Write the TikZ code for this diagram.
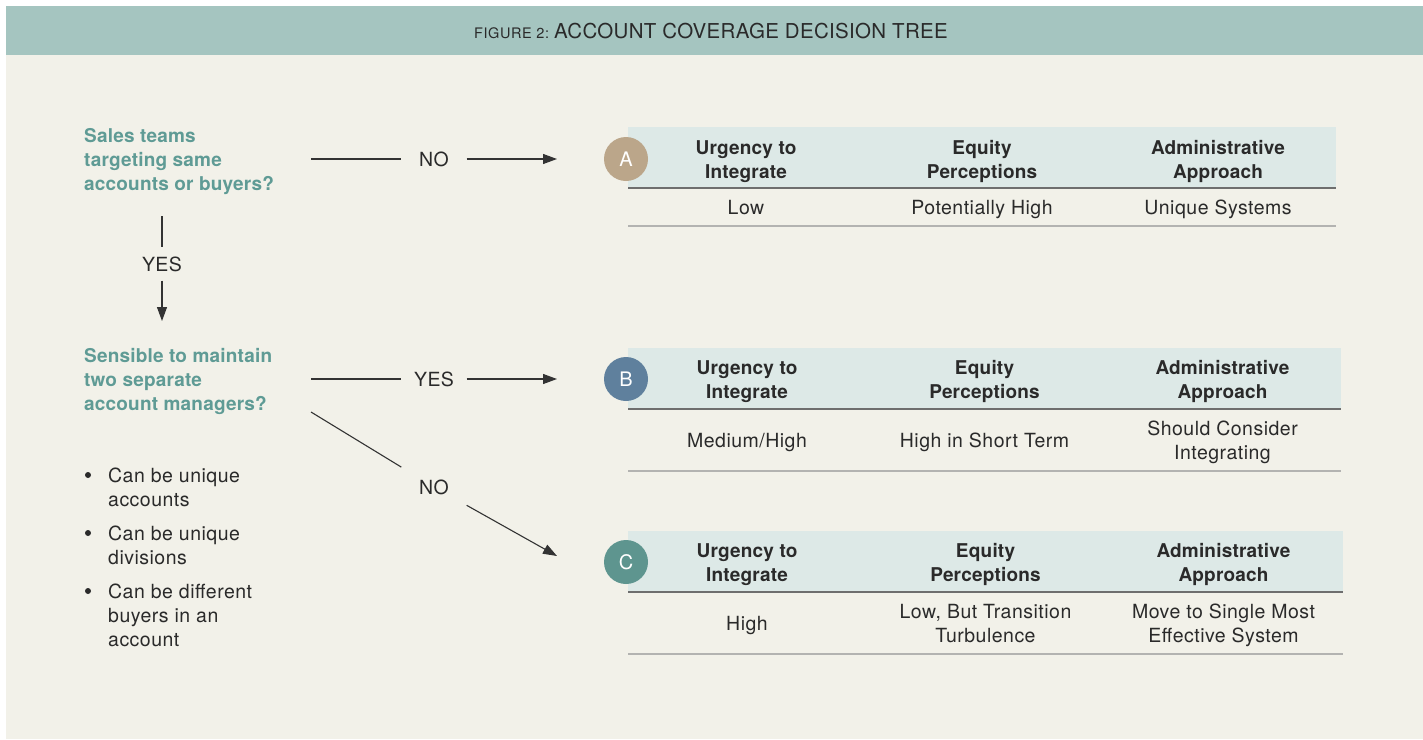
\documentclass[tikz,border=0pt]{standalone}
\usepackage{fontspec}
\setmainfont{TeX Gyre Heros}
\newfontfamily\regf[LetterSpace=2.5]{TeX Gyre Heros}
\newfontfamily\medf[LetterSpace=1]{TeX Gyre Heros}
\newfontfamily\titlef[LetterSpace=1.5]{TeX Gyre Heros}
\newfontfamily\smalltitlef[LetterSpace=4]{TeX Gyre Heros}
\usetikzlibrary{arrows.meta}
\definecolor{cream}{HTML}{F2F1E9}
\definecolor{headteal}{HTML}{A5C5C0}
\definecolor{qteal}{HTML}{5F9B95}
\definecolor{band}{HTML}{DDE9E7}
\definecolor{ink}{HTML}{2A2A2A}
\definecolor{lineink}{HTML}{333333}
\definecolor{darkrule}{HTML}{6E6E6E}
\definecolor{lightrule}{HTML}{B3B3B1}
\definecolor{cA}{HTML}{BBA68A}
\definecolor{cB}{HTML}{5F809D}
\definecolor{cC}{HTML}{5E958F}
\tikzset{
  txt/.style={inner sep=0pt, yshift=-2.2pt,
    execute at begin node=\strut, execute at end node=\strut},
  mtxt/.style={txt, yshift=-2pt},
  question/.style={mtxt, anchor=west, align=left, text=qteal,
    font=\fontsize{19}{24}\selectfont\medf\bfseries},
  hdr/.style={mtxt, align=center, text=ink,
    font=\fontsize{19}{24}\selectfont\medf\bfseries},
  cell/.style={txt, align=center, text=ink,
    font=\fontsize{19.5}{24}\selectfont\regf},
  mcell/.style={mtxt, align=center, text=ink,
    font=\fontsize{19.5}{24}\selectfont\regf},
  bultext/.style={mtxt, anchor=west, align=left, text=ink,
    font=\fontsize{19.5}{24}\selectfont\regf},
  lbl/.style={inner sep=0pt, text=ink, minimum width=65pt, minimum height=33pt,
    font=\fontsize{19.5}{24}\selectfont\regf},
  dlbl/.style={lbl, minimum height=42pt},
  badge/.style={circle, minimum size=44pt, inner sep=0pt, text=white,
    font=\fontsize{20}{24}\selectfont},
  conn/.style={draw=lineink, line width=1.1pt},
  arr/.style={conn, -{Triangle[length=14pt, width=10pt]}},
  darkline/.style={draw=darkrule, line width=2pt},
  lightline/.style={draw=lightrule, line width=1.5pt},
}
\begin{document}
\begin{tikzpicture}[x=1pt, y=-1pt]
\useasboundingbox (0,0) rectangle (1423,739);
\fill[white] (0,0) rectangle (1423,739);
\fill[cream] (6,54) rectangle (1423,739);
\fill[headteal] (6,6) rectangle (1423,55);
\node[anchor=base west, inner sep=0pt, text=ink] (title) at (474,38.3)
  {{\fontsize{14.5}{16}\selectfont\smalltitlef FIGURE 2:}\hspace{5pt}{\fontsize{20.5}{24}\selectfont\titlef ACCOUNT COVERAGE DECISION TREE}};

% questions
\node[question] (q1) at (84,159) {Sales teams\\targeting same\\accounts or buyers?};
\node[question] (q2) at (84,379) {Sensible to maintain\\two separate\\account managers?};

% bullets
\fill[ink] (88,475) circle (3pt);
\fill[ink] (88,533) circle (3pt);
\fill[ink] (88,591) circle (3pt);
\node[bultext] (b1) at (108,487) {Can be unique\\accounts};
\node[bultext] (b2) at (108,545) {Can be unique\\divisions};
\node[bultext] (b3) at (108,615) {Can be different\\buyers in an\\account};

% table A
\fill[band] (628,127) rectangle (1336,188);
\draw[darkline] (628,188) -- (1336,188);
\draw[lightline] (628,226) -- (1336,226);
\node[hdr] (ha1) at (746,159) {Urgency to\\Integrate};
\node[hdr] (ha2) at (982,159) {Equity\\Perceptions};
\node[hdr] (ha3) at (1218,159) {Administrative\\Approach};
\node[cell] (ra1) at (746,207) {Low};
\node[cell] (ra2) at (982,207) {Potentially High};
\node[cell] (ra3) at (1218,207) {Unique Systems};
\node[badge, fill=cA] (A) at (626,159) {A};

% table B
\fill[band] (628,348) rectangle (1341,409);
\draw[darkline] (628,409) -- (1341,409);
\draw[lightline] (628,471) -- (1341,471);
\node[hdr] (hb1) at (747,379) {Urgency to\\Integrate};
\node[hdr] (hb2) at (984.5,379) {Equity\\Perceptions};
\node[hdr] (hb3) at (1222.5,379) {Administrative\\Approach};
\node[cell] (rb1) at (747,440) {Medium/High};
\node[cell] (rb2) at (984.5,440) {High in Short Term};
\node[mcell] (rb3) at (1222.5,440) {Should Consider\\Integrating};
\node[badge, fill=cB] (B) at (626,379) {B};

% table C
\fill[band] (628,531) rectangle (1343,592);
\draw[darkline] (628,592) -- (1343,592);
\draw[lightline] (628,654) -- (1343,654);
\node[hdr] (hc1) at (747,562) {Urgency to\\Integrate};
\node[hdr] (hc2) at (985.5,562) {Equity\\Perceptions};
\node[hdr] (hc3) at (1223.5,562) {Administrative\\Approach};
\node[cell] (rc1) at (747,623) {High};
\node[mcell] (rc2) at (985.5,623) {Low, But Transition\\Turbulence};
\node[mcell] (rc3) at (1223.5,623) {Move to Single Most\\Effective System};
\node[badge, fill=cC] (C) at (626,562) {C};

% connector coordinates
\coordinate (s1) at (311,159);
\coordinate (eA) at (557,159);
\coordinate (s2) at (162,216);
\coordinate (e2) at (162,321);
\coordinate (s3) at (311,379);
\coordinate (eB) at (557,379);
\coordinate (s4) at (311,412);
\coordinate (eC) at (557,556);

% labels
\node[lbl] (no1) at (434,159) {NO};
\node[lbl] (yes1) at (162,264) {YES};
\node[lbl] (yes2) at (434,379) {YES};
\node[dlbl] (no2) at (434,487) {NO};

% connectors
\draw[conn] (s1) -- (no1);
\draw[arr] (no1) -- (eA);
\draw[conn] (s2) -- (yes1);
\draw[arr] (yes1) -- (e2);
\draw[conn] (s3) -- (yes2);
\draw[arr] (yes2) -- (eB);
\draw[conn] (s4) -- (no2);
\draw[arr] (no2) -- (eC);
\end{tikzpicture}
\end{document}
